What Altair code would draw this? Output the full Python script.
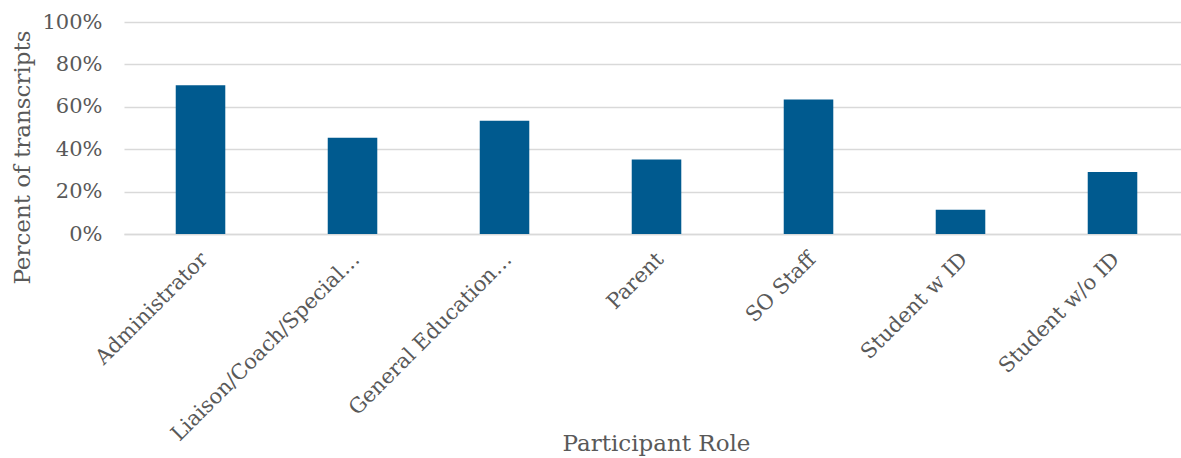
import altair as alt
import pandas as pd

# Share of transcripts mentioning the topic, by participant role
roles = [
    "Administrator",
    "Liaison/Coach/Special…",
    "General Education…",
    "Parent",
    "SO Staff",
    "Student w ID",
    "Student w/o ID",
]
shares = [0.702, 0.454, 0.534, 0.351, 0.635, 0.114, 0.292]

df = pd.DataFrame({"role": roles, "share": shares})

FONT = "DejaVu Serif"
TEXT = "#595959"
GRID = "#d9d9d9"

chart = (
    alt.Chart(df)
    .mark_bar(color="#005A8F")
    .encode(
        x=alt.X(
            "role:N",
            sort=roles,
            scale=alt.Scale(paddingInner=0.674, paddingOuter=0.314, align=0.542, round=False),
            axis=alt.Axis(
                title="Participant Role",
                labelAngle=-45,
                labelAlign="right",
                labelBaseline="middle",
                labelPadding=22,
                labelOffset=4,
                labelFontSize=21,
                labelColor=TEXT,
                labelLimit=400,
                ticks=False,
                domain=True,
                domainColor=GRID,
                domainWidth=1.5,
                titleFontSize=23,
                titleFontWeight="normal",
                titleColor=TEXT,
                titleX=532,
                titleY=209,
                titleBaseline="middle",
                titleAlign="center",
            ),
        ),
        y=alt.Y(
            "share:Q",
            scale=alt.Scale(domain=[0, 1], nice=False),
            axis=alt.Axis(
                title="Percent of transcripts",
                format=".0%",
                values=[0, 0.2, 0.4, 0.6, 0.8, 1.0],
                labelFontSize=21,
                labelColor=TEXT,
                labelPadding=22,
                ticks=False,
                domain=False,
                grid=True,
                gridColor=GRID,
                gridWidth=1.5,
                titleFontSize=23,
                titleFontWeight="normal",
                titleColor=TEXT,
                titleAngle=270,
                titleX=-102,
                titleY=135,
                titleAlign="center",
                titleBaseline="middle",
            ),
        ),
    )
    .properties(
        width=1057,
        height=212,
        autosize=alt.AutoSizeParams(type="none"),
        padding={"left": 124, "top": 22, "right": 0, "bottom": 224},
    )
    .configure(font=FONT)
    .configure_view(stroke=None)
    .configure_axis(labelFont=FONT, titleFont=FONT)
)

chart.save("out.html", embed_options={"renderer": "svg", "actions": False})
